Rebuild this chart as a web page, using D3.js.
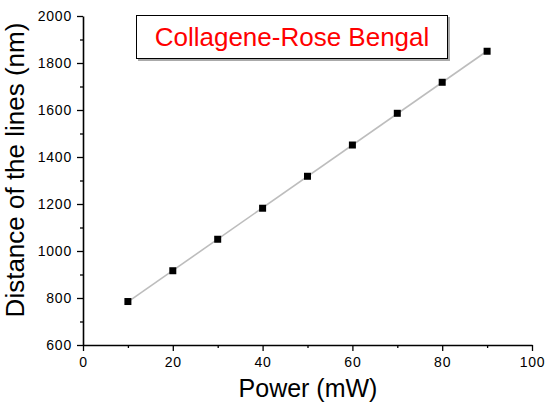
<!DOCTYPE html>
<html>
<head>
<meta charset="utf-8">
<script src="https://cdn.jsdelivr.net/npm/d3@7"></script>
<style>
  body { margin: 0; background: #fff; }
  svg { font-family: "Liberation Sans", Arial, sans-serif; }
</style>
</head>
<body>
<div class="svg"></div>
<script>
var power = [10, 20, 30, 40, 50, 60, 70, 80, 90];
var distance = [785, 916, 1050, 1182, 1318, 1451, 1586, 1718, 1850];
var xTicks = [0, 20, 40, 60, 80, 100];
var yTicks = [600, 800, 1000, 1200, 1400, 1600, 1800, 2000];
var title = "Collagene-Rose Bengal";

var width = 547, height = 403;
var margin = {top: 16, right: 15, bottom: 58, left: 83};

var svg = d3.select("div.svg")
  .append("svg")
  .attr("width", width)
  .attr("height", height);

var x = d3.scaleLinear()
  .domain([0, 100])
  .range([margin.left, 532]);

var y = d3.scaleLinear()
  .domain([600, 2000])
  .range([345, margin.top]);

// minor ticks first, then major
var xMinor = d3.axisBottom(x).tickValues(d3.range(10, 100, 20)).tickSize(3).tickFormat("");
var yMinor = d3.axisLeft(y).tickValues(d3.range(700, 2000, 200)).tickSize(3).tickFormat("");

svg.append("g")
  .attr("transform", `translate(0,${y(600)})`)
  .call(xMinor)
  .call(g => g.select(".domain").remove())
  .selectAll("line").attr("stroke-width", 1.3);

svg.append("g")
  .attr("transform", `translate(${x(0)},0)`)
  .call(yMinor)
  .call(g => g.select(".domain").remove())
  .selectAll("line").attr("stroke-width", 1.3);

var xAxis = svg.append("g")
  .attr("transform", `translate(0,${y(600)})`)
  .call(d3.axisBottom(x).tickValues(xTicks).tickFormat(d3.format("d")).tickSize(6).tickSizeOuter(0).tickPadding(6));

var yAxis = svg.append("g")
  .attr("transform", `translate(${x(0)},0)`)
  .call(d3.axisLeft(y).tickValues(yTicks).tickFormat(d3.format("d")).tickSize(6).tickSizeOuter(0).tickPadding(5));

[xAxis, yAxis].forEach(function(a){
  a.select(".domain").attr("stroke-width", 1.6);
  a.selectAll(".tick line").attr("stroke-width", 1.3);
  a.selectAll(".tick text")
    .attr("font-size", 14)
    .attr("letter-spacing", 0.8)
    .attr("font-family", "Liberation Sans, Arial, sans-serif")
    .attr("fill", "#000");
});

// linear fit through the data
var mx = d3.mean(power), my = d3.mean(distance);
var slope = d3.sum(power, (p, i) => (p - mx) * (distance[i] - my)) / d3.sum(power, p => (p - mx) * (p - mx));
var icpt = my - slope * mx;
var fit = [d3.min(power), d3.max(power)].map(p => ({p: p, d: icpt + slope * p}));

svg.append("path")
  .datum(fit)
  .attr("fill", "none")
  .attr("stroke", "#bdbdbd")
  .attr("stroke-width", 1.6)
  .attr("d", d3.line().x(d => x(d.p)).y(d => y(d.d)));

svg.selectAll("rect.pt")
  .data(power)
  .enter().append("rect")
  .attr("class", "pt")
  .attr("x", (d) => x(d) - 3.5)
  .attr("y", (d, i) => y(distance[i]) - 3.5)
  .attr("width", 7)
  .attr("height", 7)
  .attr("fill", "#000");

// title box
svg.append("rect")
  .attr("x", 138).attr("y", 17)
  .attr("width", 312).attr("height", 44)
  .attr("fill", "#aaa");
svg.append("rect")
  .attr("x", 136.5).attr("y", 15.5)
  .attr("width", 311).attr("height", 43)
  .attr("fill", "#fff")
  .attr("stroke", "#000")
  .attr("stroke-width", 1);
svg.append("text")
  .attr("x", 292).attr("y", 46)
  .attr("text-anchor", "middle")
  .attr("font-size", 26)
  .attr("fill", "#ff0000")
  .text(title);

// axis titles
svg.append("text")
  .attr("x", 308).attr("y", 397)
  .attr("text-anchor", "middle")
  .attr("font-size", 25)
  .text("Power (mW)");

svg.append("text")
  .attr("transform", `translate(24,170) rotate(-90)`)
  .attr("text-anchor", "middle")
  .attr("font-size", 26)
  .text("Distance of the lines (nm)");
</script>
</body>
</html>
